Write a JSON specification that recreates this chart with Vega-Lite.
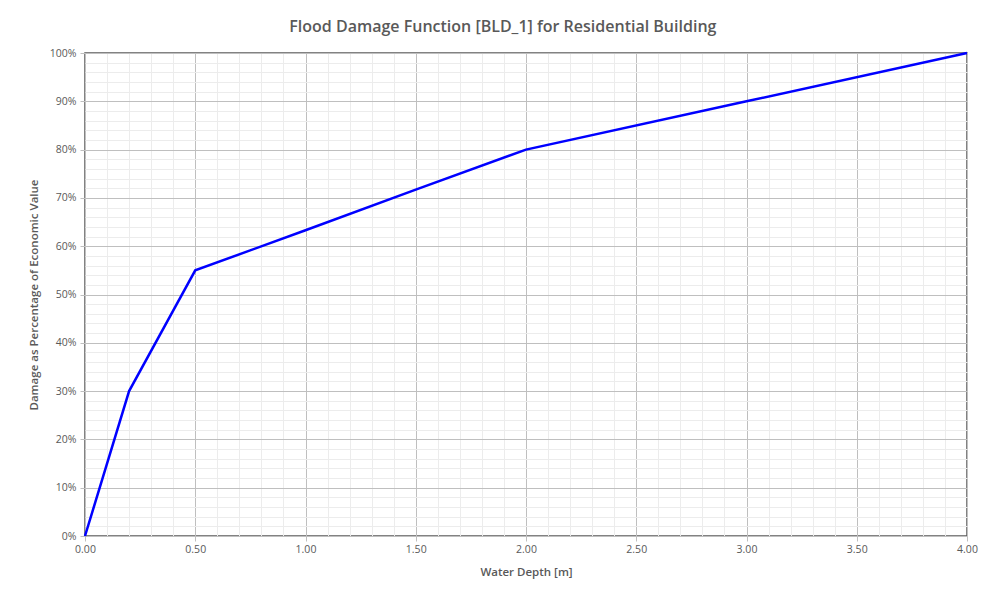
{
  "$schema": "https://vega.github.io/schema/vega-lite/v6.json",
  "width": 882,
  "height": 483,
  "autosize": {"type": "none"},
  "padding": {"left": 85, "top": 53, "right": 27, "bottom": 54},
  "background": "white",
  "title": {
    "text": "Flood Damage Function [BLD_1] for Residential Building",
    "font": "Open Sans",
    "fontSize": 16,
    "fontWeight": 600,
    "color": "#595959",
    "anchor": "middle",
    "frame": "bounds",
    "offset": 13
  },
  "config": {
    "view": {"stroke": "#595959", "strokeWidth": 1.5},
    "axis": {
      "labelFont": "Open Sans",
      "labelFontSize": 10.5,
      "labelColor": "#595959",
      "titleFont": "Open Sans",
      "titleFontSize": 11.5,
      "titleFontWeight": 600,
      "titleColor": "#595959"
    }
  },
  "data": {
    "values": [
      {"depth": 0.0, "damage": 0.0},
      {"depth": 0.2, "damage": 0.3},
      {"depth": 0.5, "damage": 0.55},
      {"depth": 1.0, "damage": 0.633},
      {"depth": 1.5, "damage": 0.717},
      {"depth": 2.0, "damage": 0.8},
      {"depth": 3.0, "damage": 0.9},
      {"depth": 4.0, "damage": 1.0}
    ]
  },
  "resolve": {"axis": {"x": "independent", "y": "independent"}},
  "layer": [
    {
      "mark": {"type": "line", "opacity": 0},
      "encoding": {
        "x": {
          "field": "depth", "type": "quantitative",
          "scale": {"domain": [0, 4], "nice": false},
          "axis": {
            "orient": "bottom",
            "values": [0,0.1,0.2,0.3,0.4,0.5,0.6,0.7,0.8,0.9,1,1.1,1.2,1.3,1.4,1.5,1.6,1.7,1.8,1.9,2,2.1,2.2,2.3,2.4,2.5,2.6,2.7,2.8,2.9,3,3.1,3.2,3.3,3.4,3.5,3.6,3.7,3.8,3.9,4],
            "grid": true, "gridColor": "#ececec", "gridWidth": 1,
            "labels": false, "ticks": false, "domain": false, "title": null
          }
        },
        "y": {
          "field": "damage", "type": "quantitative",
          "scale": {"domain": [0, 1], "nice": false},
          "axis": {
            "orient": "left",
            "values": [0,0.02,0.04,0.06,0.08,0.1,0.12,0.14,0.16,0.18,0.2,0.22,0.24,0.26,0.28,0.3,0.32,0.34,0.36,0.38,0.4,0.42,0.44,0.46,0.48,0.5,0.52,0.54,0.56,0.58,0.6,0.62,0.64,0.66,0.68,0.7,0.72,0.74,0.76,0.78,0.8,0.82,0.84,0.86,0.88,0.9,0.92,0.94,0.96,0.98,1],
            "grid": true, "gridColor": "#ececec", "gridWidth": 1,
            "labels": false, "ticks": false, "domain": false, "title": null
          }
        }
      }
    },
    {
      "mark": {"type": "line", "color": "#0000ff", "strokeWidth": 2.5},
      "encoding": {
        "x": {
          "field": "depth", "type": "quantitative",
          "axis": {
            "orient": "bottom",
            "values": [0,0.5,1,1.5,2,2.5,3,3.5,4],
            "format": ".2f",
            "labelFlush": false,
            "labelOverlap": false,
            "grid": true, "gridColor": "#bfbfbf", "gridWidth": 1,
            "domain": false,
            "tickColor": "#bfbfbf", "tickSize": 5,
            "labelPadding": 3,
            "title": "Water Depth [m]",
            "titlePadding": 12
          }
        },
        "y": {
          "field": "damage", "type": "quantitative",
          "axis": {
            "orient": "left",
            "values": [0,0.1,0.2,0.3,0.4,0.5,0.6,0.7,0.8,0.9,1],
            "format": ".0%",
            "labelFlush": false,
            "labelOverlap": false,
            "grid": true, "gridColor": "#bfbfbf", "gridWidth": 1,
            "domain": false,
            "tickColor": "#bfbfbf", "tickSize": 5,
            "labelPadding": 4,
            "title": "Damage as Percentage of Economic Value",
            "titlePadding": 10
          }
        }
      }
    }
  ]
}
